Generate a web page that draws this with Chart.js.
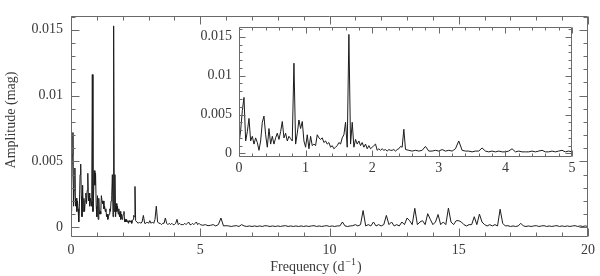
<!DOCTYPE html>
<html>
<head>
<meta charset="utf-8">
<script src="https://cdn.jsdelivr.net/npm/chart.js@4.4.0/dist/chart.umd.min.js"></script>
<style>
  html, body { margin: 0; padding: 0; background: #fff; }
  #wrap { position: relative; width: 600px; height: 276px; }
  #mainChart { position: absolute; left: 0; top: 0; }
  #insetChart { position: absolute; left: 180px; top: 12px; }
</style>
</head>
<body>
<div id="wrap">
  <canvas id="mainChart" width="600" height="276"></canvas>
  <canvas id="insetChart" width="400" height="170"></canvas>
</div>
<script>
// amplitude spectrum, in three frequency bands
const lowStart = 0, lowStep = 0.025;
const lowAmp = [
  0.0012, 0.0030, 0.0055, 0.0072, 0.0016, 0.0028, 0.0045, 0.0016, 0.0022, 0.0012,
  0.0020, 0.0014, 0.0004, 0.0016, 0.0040, 0.0048, 0.0024, 0.0008, 0.0032, 0.0012,
  0.0022, 0.0012, 0.0020, 0.0026, 0.0018, 0.0028, 0.0041, 0.0020, 0.0026, 0.0016,
  0.0022, 0.0019, 0.0016, 0.0116, 0.0012, 0.0026, 0.0043, 0.0032, 0.0041, 0.0016,
  0.0008, 0.0024, 0.0006, 0.0022, 0.0010, 0.0012, 0.0010, 0.0024, 0.0020, 0.0018,
  0.0020, 0.0014, 0.0016, 0.0012, 0.0014, 0.0008, 0.0010, 0.0006, 0.0008, 0.0010,
  0.0014, 0.0012, 0.0020, 0.0024, 0.0040, 0.0008, 0.0153, 0.0012, 0.0040, 0.0008,
  0.0018, 0.0012, 0.0016, 0.0010, 0.0014, 0.0008, 0.0012, 0.0006, 0.0010, 0.0006,
  0.0008, 0.0010, 0.0012, 0.0004, 0.0006, 0.0004, 0.0006, 0.0004, 0.0005, 0.0003,
  0.0005, 0.0004, 0.0004, 0.0005, 0.0003, 0.0005, 0.0006, 0.0009, 0.0008, 0.0031,
  0.0005
];
const midStart = 2.55, midStep = 0.05;
const midAmp = [
  0.0004, 0.0003, 0.0004, 0.0003, 0.0004, 0.0009, 0.0003, 0.0003, 0.0004, 0.0003,
  0.0005, 0.0003, 0.0004, 0.0003, 0.0006, 0.0016, 0.0004, 0.0003, 0.0003, 0.0002,
  0.0003, 0.0003, 0.0007, 0.0003, 0.0002, 0.0003, 0.0002, 0.0003, 0.0002, 0.0002,
  0.0003, 0.0006, 0.0002, 0.0003, 0.0002, 0.0002, 0.0002, 0.0003, 0.0002, 0.0003,
  0.0004, 0.0002, 0.0002, 0.0003, 0.0002, 0.0003, 0.0004, 0.0002, 0.0003, 0.0002
];
const highStart = 5.1, highStep = 0.1;
const highAmp = [
  0.00015, 0.0002, 0.00012, 0.00015, 0.0002, 0.0001, 0.0002, 0.0007, 0.0001, 0.00012,
  0.0001, 0.00006, 0.0001, 0.00012, 0.00006, 0.0002, 0.0001, 0.00006, 0.0001, 0.00006,
  0.0001, 0.00006, 0.0001, 0.00006, 0.00012, 0.0001, 0.00006, 0.0001, 0.00006, 0.0001,
  0.00006, 0.0001, 0.00012, 0.00006, 0.0001, 0.00006, 0.0001, 0.00006, 0.0001, 0.00006,
  0.0001, 0.00006, 0.0001, 0.00012, 0.00006, 0.0001, 0.00006, 0.0001, 0.00012, 0.00006,
  0.0001, 0.00006, 0.0001, 0.0001, 0.0004, 0.0001, 0.00006, 0.0001, 0.00012, 0.0002,
  0.0001, 0.0002, 0.00127, 0.0001, 0.0002, 0.0001, 0.0004, 0.0001, 0.0002, 0.0001,
  0.0002, 0.0009, 0.0002, 0.0004, 0.0001, 0.0002, 0.0001, 0.0004, 0.0002, 0.0007,
  0.0005, 0.0002, 0.00144, 0.0002, 0.0004, 0.0005, 0.0002, 0.00103, 0.0006, 0.0002,
  0.0004, 0.00097, 0.0002, 0.0004, 0.0002, 0.00145, 0.0004, 0.0002, 0.0005, 0.0005,
  0.0004, 0.0002, 0.0001, 0.0002, 0.0002, 0.0008, 0.0002, 0.0010, 0.0004, 0.0002,
  0.0001, 0.0002, 0.0001, 0.0002, 0.0001, 0.00137, 0.0003, 0.0001, 0.00012, 0.00006,
  0.0001, 0.00006, 0.0001, 0.0003, 0.0001, 0.00006, 0.0001, 0.00006, 0.0001, 0.00012,
  0.00006, 0.0001, 0.00012, 0.00006, 0.0001, 0.00006, 0.0001, 0.00012, 0.00006, 0.0001,
  0.00006, 0.0001, 0.00006, 0.0001, 0.00012, 0.00006, 0.0001, 0.00006, 0.0001, 0.00006
];

const freqTicks = [0, 5, 10, 15, 20];
const insetFreqTicks = [0, 1, 2, 3, 4, 5];
const ampTicks = [0, 0.005, 0.01, 0.015];
const ampTickLabels = ['0', '0.005', '0.01', '0.015'];

const FONT = "'Liberation Serif', 'DejaVu Serif', serif";
const TEXT = '#3a3a3a';

function band(start, step, values) {
  return values.map((a, i) => ({ x: +(start + i * step).toFixed(3), y: a }));
}
const spectrum = [
  ...band(lowStart, lowStep, lowAmp),
  ...band(midStart, midStep, midAmp),
  ...band(highStart, highStep, highAmp)
];

// box round the plot with inward ticks on all four sides
const framePlugin = {
  id: 'frame',
  afterDraw(chart, args, o) {
    const { ctx, chartArea: a, scales: { x, y } } = chart;
    const L = Math.round(a.left) + 0.5, R = Math.round(a.right) - 0.5;
    const T = Math.round(a.top) + 0.5, B = Math.round(a.bottom) - 0.5;
    ctx.save();
    ctx.strokeStyle = o.color;
    ctx.lineWidth = 1;
    ctx.beginPath();
    ctx.rect(L, T, R - L, B - T);
    const near = (v, s) => Math.abs(v / s - Math.round(v / s)) < 1e-6;
    for (let k = Math.ceil(x.min / o.xMinor); k * o.xMinor <= x.max + 1e-9; k++) {
      const v = k * o.xMinor;
      const px = Math.round(x.getPixelForValue(v)) + 0.5;
      const len = near(v, o.xMajor) ? o.major : o.minor;
      ctx.moveTo(px, B); ctx.lineTo(px, B - len);
      ctx.moveTo(px, T); ctx.lineTo(px, T + len);
    }
    for (let k = Math.ceil(y.min / o.yMinor); k * o.yMinor <= y.max + 1e-12; k++) {
      const v = k * o.yMinor;
      const py = Math.round(y.getPixelForValue(v)) + 0.5;
      const len = near(v, o.yMajor) ? o.major : o.minor;
      ctx.moveTo(L, py); ctx.lineTo(L + len, py);
      ctx.moveTo(R, py); ctx.lineTo(R - len, py);
    }
    ctx.stroke();
    ctx.restore();
  }
};

// axis titles of the main panel
const titlePlugin = {
  id: 'axisTitles',
  afterDraw(chart) {
    const { ctx } = chart;
    ctx.save();
    ctx.fillStyle = TEXT;
    ctx.textBaseline = 'alphabetic';
    const a = 'Frequency (d', b = '\u22121', c = ')';
    ctx.font = '14px ' + FONT; const wa = ctx.measureText(a).width;
    ctx.font = '10px ' + FONT; const wb = ctx.measureText(b).width;
    ctx.font = '14px ' + FONT; const wc = ctx.measureText(c).width;
    const x0 = 315 - (wa + wb + wc) / 2;
    const base = 271;
    ctx.fillText(a, x0, base);
    ctx.font = '10px ' + FONT;
    ctx.fillText(b, x0 + wa + 1, base - 6);
    ctx.font = '14px ' + FONT;
    ctx.fillText(c, x0 + wa + wb + 2, base);
    ctx.translate(15, 120);
    ctx.rotate(-Math.PI / 2);
    ctx.textAlign = 'center';
    ctx.fillText('Amplitude (mag)', 0, 0);
    ctx.restore();
  }
};

function makeChart(id, opts) {
  return new Chart(document.getElementById(id), {
    type: 'line',
    data: {
      datasets: [{
        data: spectrum,
        borderColor: '#1c1c1c',
        borderWidth: 1,
        pointRadius: 0,
        tension: 0
      }]
    },
    options: {
      responsive: false,
      animation: false,
      events: [],
      layout: { padding: opts.padding },
      plugins: {
        legend: { display: false },
        tooltip: { enabled: false },
        frame: opts.frame
      },
      scales: {
        x: {
          type: 'linear',
          min: opts.xMin,
          max: opts.xMax,
          grid: { display: false, drawTicks: false },
          border: { display: false },
          afterFit: s => { s.height = opts.xHeight; },
          afterBuildTicks: s => { s.ticks = opts.xTicks.map(v => ({ value: v })); },
          ticks: {
            padding: opts.xPad,
            color: TEXT,
            font: { family: FONT, size: 14 },
            maxRotation: 0,
            autoSkip: false,
            callback: v => String(v)
          }
        },
        y: {
          min: opts.yMin,
          max: opts.yMax,
          grid: { display: false, drawTicks: false },
          border: { display: false },
          afterFit: s => { s.width = opts.yWidth; },
          afterBuildTicks: s => { s.ticks = ampTicks.map(v => ({ value: v })); },
          ticks: {
            padding: opts.yPad,
            color: TEXT,
            font: { family: FONT, size: 14 },
            callback: v => ampTickLabels[ampTicks.indexOf(v)]
          }
        }
      }
    },
    plugins: opts.plugins
  });
}

makeChart('mainChart', {
  padding: { left: 0, right: 9, top: 3, bottom: 0 },
  xMin: 0, xMax: 20, yMin: -0.00074, yMax: 0.01602,
  xHeight: 39, yWidth: 71, xPad: 5, yPad: 8,
  xTicks: freqTicks,
  frame: { color: '#6a6a6a', xMajor: 5, xMinor: 1, yMajor: 0.005, yMinor: 0.001, major: 8, minor: 4 },
  plugins: [framePlugin, titlePlugin]
});

makeChart('insetChart', {
  padding: { left: 0, right: 8, top: 10, bottom: 0 },
  xMin: 0, xMax: 5, yMin: -0.00046, yMax: 0.0162,
  xHeight: 25, yWidth: 59, xPad: 3, yPad: 7,
  xTicks: insetFreqTicks,
  frame: { color: '#6a6a6a', xMajor: 1, xMinor: 0.2, yMajor: 0.005, yMinor: 0.001, major: 6, minor: 3 },
  plugins: [framePlugin]
});
</script>
</body>
</html>
